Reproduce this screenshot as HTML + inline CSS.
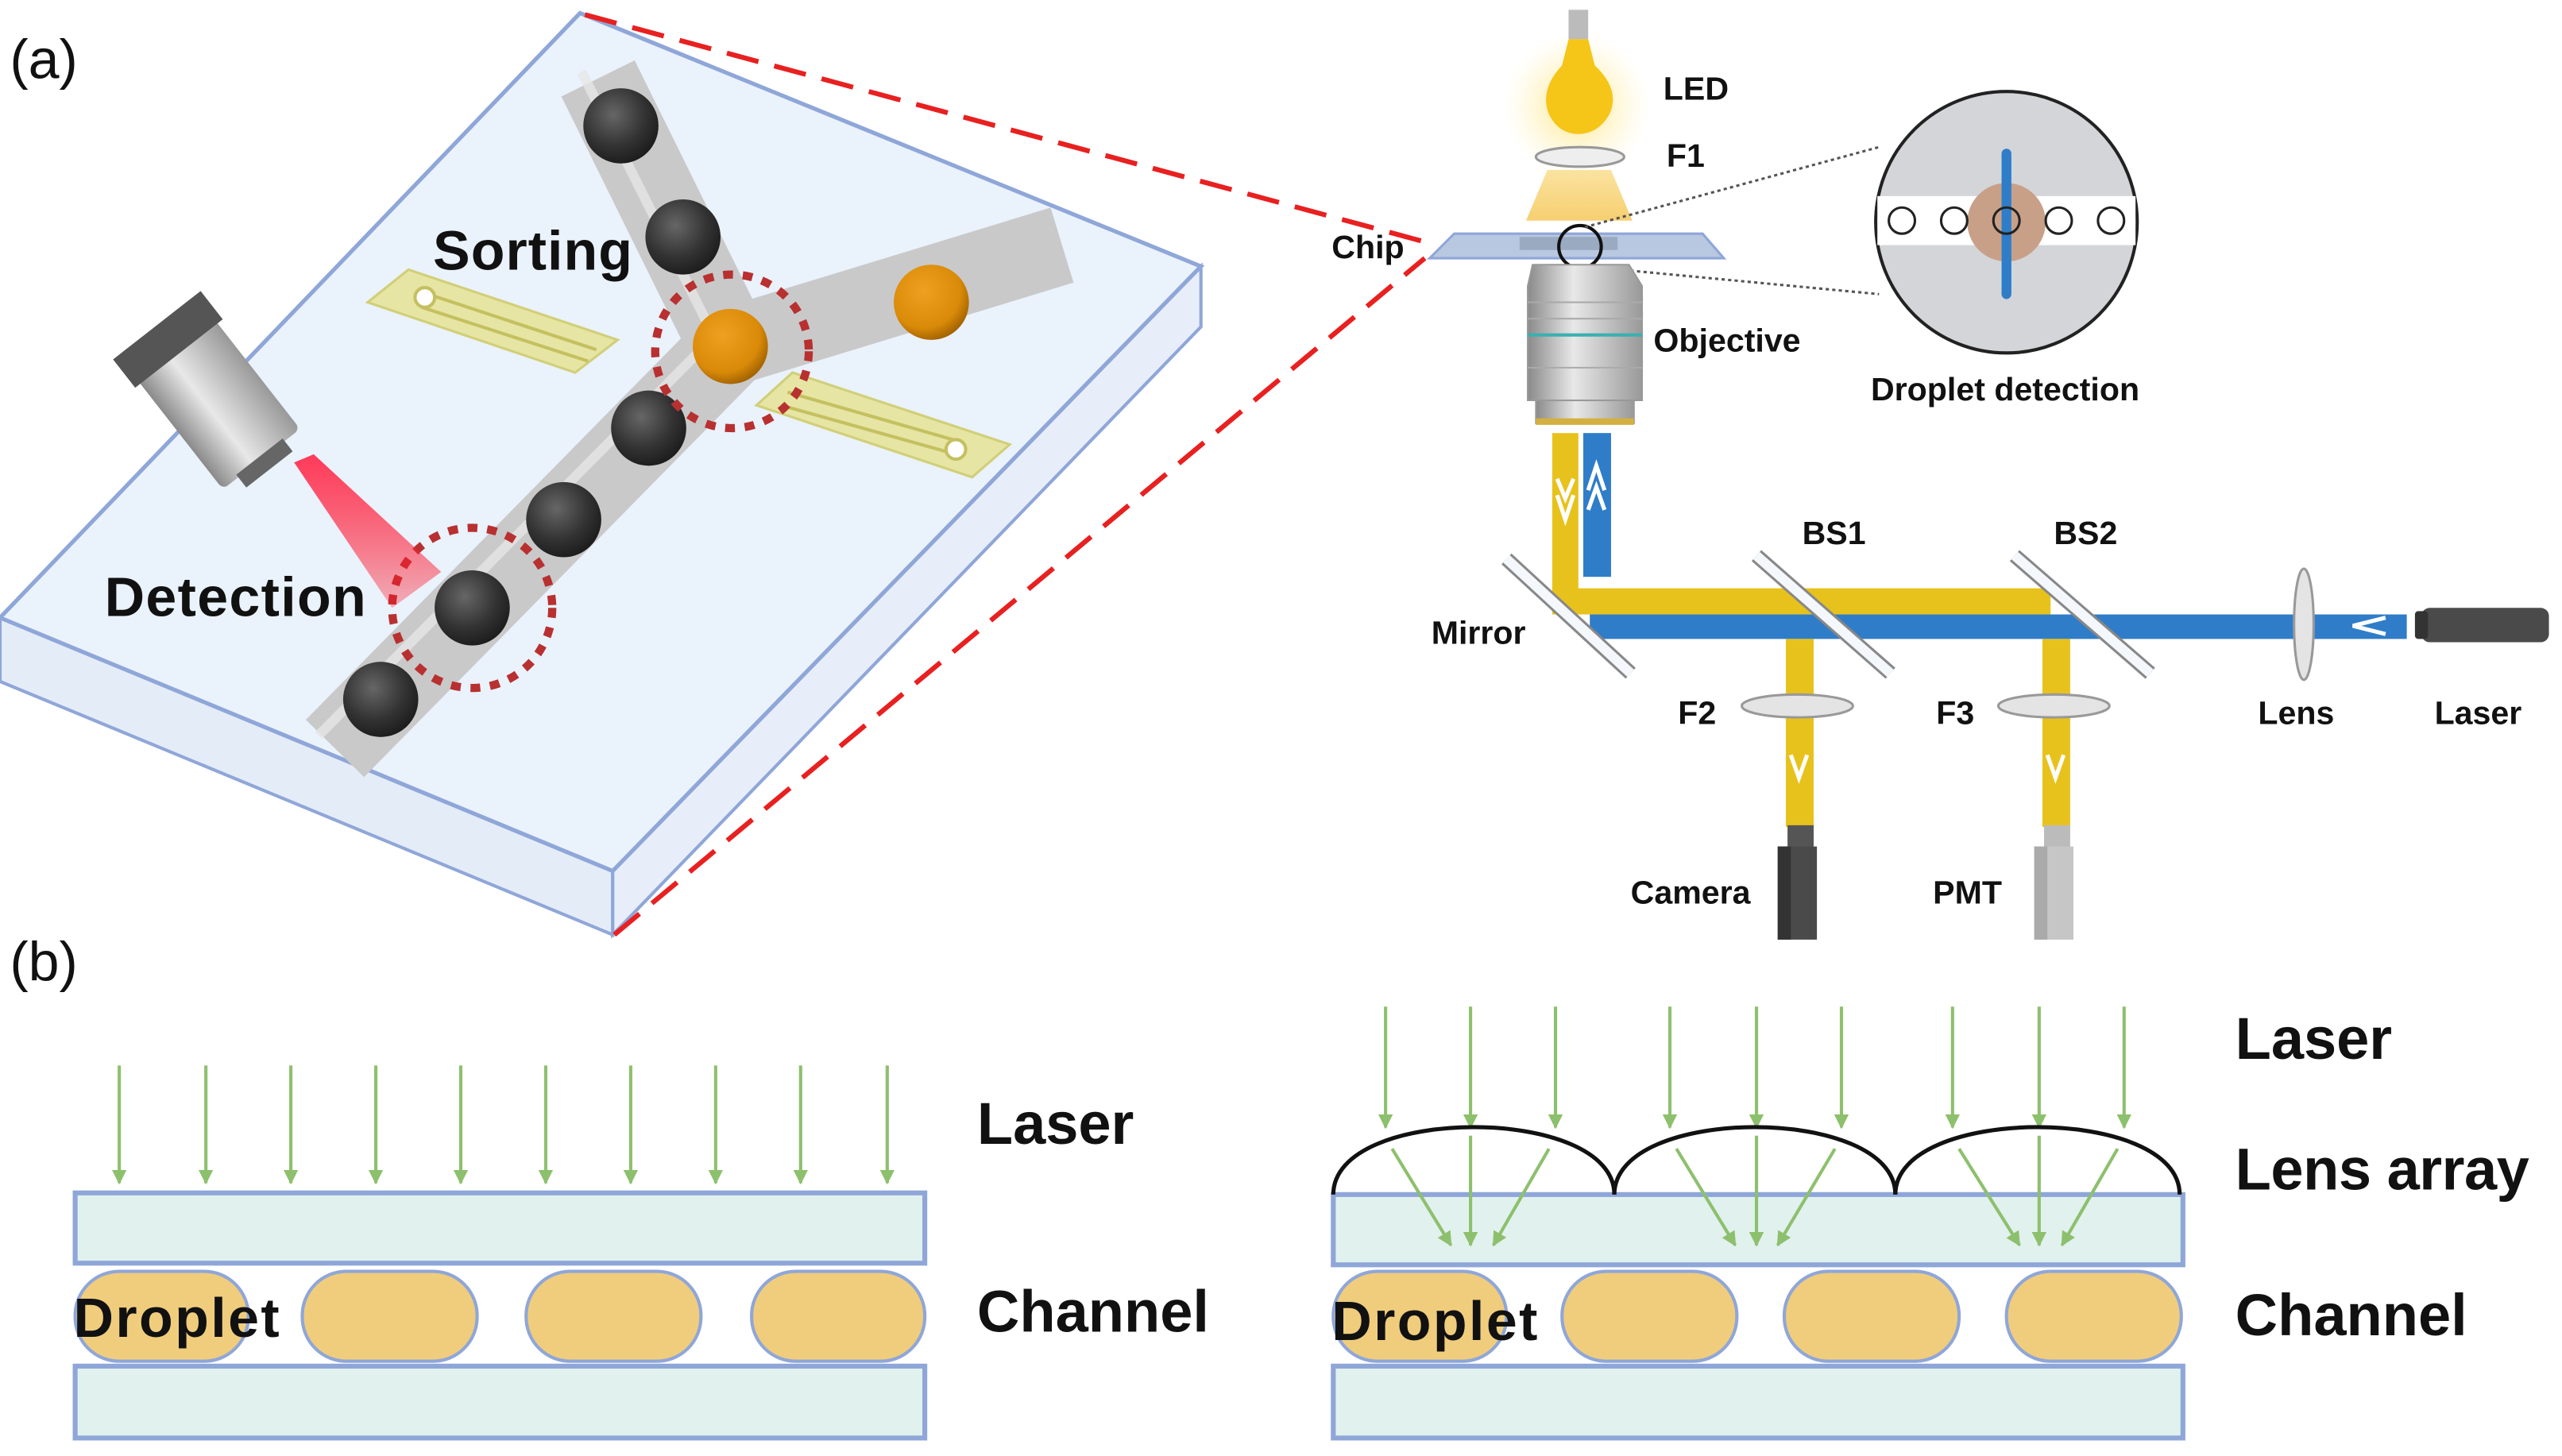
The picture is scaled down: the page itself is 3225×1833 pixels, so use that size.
<!DOCTYPE html>
<html><head><meta charset="utf-8"><style>
html,body{margin:0;padding:0;background:#fff;}
svg{display:block;}
text{font-family:"Liberation Sans",sans-serif;}
.b{font-weight:bold;fill:#111;}
</style></head><body>
<svg width="3225" height="1833" viewBox="0 0 1568 891" preserveAspectRatio="none" xmlns="http://www.w3.org/2000/svg">
<defs>
<radialGradient id="ball" cx="0.4" cy="0.35" r="0.7"><stop offset="0" stop-color="#666"/><stop offset="0.6" stop-color="#333"/><stop offset="1" stop-color="#1a1a1a"/></radialGradient>
<radialGradient id="orb" cx="0.4" cy="0.35" r="0.7"><stop offset="0" stop-color="#f0a020"/><stop offset="0.7" stop-color="#d98a08"/><stop offset="1" stop-color="#9a5c00"/></radialGradient>
<radialGradient id="glow" cx="0.5" cy="0.5" r="0.5"><stop offset="0" stop-color="#ffe070" stop-opacity="0.9"/><stop offset="1" stop-color="#fff4c0" stop-opacity="0"/></radialGradient>
<linearGradient id="cone" x1="0" y1="0" x2="0" y2="1"><stop offset="0" stop-color="#ff3a5a"/><stop offset="1" stop-color="#ff1020" stop-opacity="0.3"/></linearGradient>
<linearGradient id="obj" x1="0" y1="0" x2="1" y2="0"><stop offset="0" stop-color="#8a8a8a"/><stop offset="0.4" stop-color="#e8e8e8"/><stop offset="1" stop-color="#999"/></linearGradient>
<linearGradient id="ledcone" x1="0" y1="0" x2="0" y2="1"><stop offset="0" stop-color="#fbe3a0"/><stop offset="1" stop-color="#f6cf70"/></linearGradient>
<marker id="ar" viewBox="0 0 10 10" refX="9" refY="5" markerWidth="4" markerHeight="5" orient="auto" markerUnits="userSpaceOnUse"><path d="M0,0 L10,5 L0,10 z" fill="#8dc06d"/></marker>
<marker id="ag" viewBox="0 0 10 10" refX="9" refY="5" markerWidth="9" markerHeight="14" orient="auto" markerUnits="userSpaceOnUse"><path d="M0,0 L10,5 L0,10 z" fill="#8dc06d"/></marker>
</defs>

<!-- (a) labels -->
<text x="6" y="48" font-size="34" fill="#111">(a)</text>
<text x="6" y="600" font-size="34" fill="#111">(b)</text>

<!-- chip slab -->
<polygon points="0,378 375,533 375,572 0,417" fill="#e4ecf8" stroke="#8fa6d8" stroke-width="2"/>
<polygon points="375,533 735,163 735,200 375,572" fill="#e8eef9" stroke="#8fa6d8" stroke-width="2"/>
<polygon points="355,8 735,163 375,533 0,378" fill="#eaf2fc" stroke="#8fa6d8" stroke-width="2.5"/>

<!-- red dashed -->
<line x1="358" y1="9" x2="872" y2="148" stroke="#e82020" stroke-width="3" stroke-dasharray="20,10"/>
<line x1="376" y1="572" x2="872" y2="158" stroke="#e82020" stroke-width="3" stroke-dasharray="20,10"/>

<!-- channels -->
<g stroke-linecap="butt" fill="none">
<polyline points="205,458 447,212 366,48" stroke="#c9c9c9" stroke-width="50"/>
<polyline points="447,212 650,150" stroke="#c9c9c9" stroke-width="48"/>
<polyline points="195,450 437,206 356,44" stroke="#e6e6e6" stroke-width="6" opacity="0.8"/>
</g>

<!-- electrodes -->
<polygon points="225,185 250,165 378,208 352,228" fill="#e6e49a" stroke="#cfcc6a" stroke-width="1.5" opacity="0.9"/>
<g stroke="#c5c060" stroke-width="2"><line x1="262" y1="180" x2="365" y2="214"/><line x1="258" y1="188" x2="360" y2="221"/></g>
<circle cx="260" cy="182" r="6" fill="#fff" stroke="#c5c060" stroke-width="2"/>
<polygon points="463,248 485,228 618,272 595,292" fill="#e6e49a" stroke="#cfcc6a" stroke-width="1.5" opacity="0.9"/>
<g stroke="#c5c060" stroke-width="2"><line x1="478" y1="248" x2="585" y2="278"/><line x1="482" y1="240" x2="590" y2="271"/></g>
<circle cx="585" cy="275" r="6" fill="#fff" stroke="#c5c060" stroke-width="2"/>

<!-- droplets -->
<g>
<circle cx="380" cy="77" r="23" fill="url(#ball)"/>
<circle cx="418" cy="145" r="23" fill="url(#ball)"/>
<circle cx="397" cy="262" r="23" fill="url(#ball)"/>
<circle cx="345" cy="318" r="23" fill="url(#ball)"/>
<circle cx="289" cy="372" r="23" fill="url(#ball)"/>
<circle cx="233" cy="428" r="23" fill="url(#ball)"/>
<circle cx="447" cy="212" r="23" fill="url(#orb)"/>
<circle cx="570" cy="185" r="23" fill="url(#orb)"/>
</g>
<circle cx="448" cy="215" r="47" fill="none" stroke="#b83030" stroke-width="5" stroke-dasharray="6,6"/>
<circle cx="289" cy="372" r="49" fill="none" stroke="#b83030" stroke-width="5" stroke-dasharray="6,6"/>

<!-- objective on left -->
<g transform="translate(128,240) rotate(-38)">
<rect x="-30" y="-52" width="60" height="104" rx="4" fill="url(#obj)"/>
<rect x="-34" y="-52" width="68" height="22" fill="#555"/>
<rect x="-18" y="50" width="36" height="10" fill="#666"/>
</g>
<polygon points="180,283 192,278 270,350 240,372" fill="url(#cone)"/>

<text class="b" x="265" y="165" font-size="34" textLength="122">Sorting</text>
<text class="b" x="64" y="377" font-size="34" textLength="160">Detection</text>

<!-- LED -->
<circle cx="965" cy="65" r="45" fill="url(#glow)"/>
<rect x="960" y="6" width="12" height="18" fill="#bbb"/>
<path d="M960,24 L972,24 L976,40 Q992,55 985,70 Q978,82 966,82 Q954,82 948,70 Q942,55 956,40 z" fill="#f5c518"/>
<polygon points="947,104 986,104 999,135 934,135" fill="url(#ledcone)"/>
<ellipse cx="967" cy="96" rx="27" ry="6" fill="#eee" stroke="#999" stroke-width="1.5"/>
<text class="b" x="1018" y="61" font-size="20">LED</text>
<text class="b" x="1020" y="102" font-size="20">F1</text>
<text class="b" x="815" y="158" font-size="20">Chip</text>

<!-- chip plate -->
<polygon points="890,143 1042,143 1055,158 875,158" fill="#b8c8e0" stroke="#8fa6d8" stroke-width="1.5"/>
<rect x="930" y="145" width="60" height="8" fill="#9aaac0"/>
<ellipse cx="967" cy="151" rx="13" ry="13" fill="none" stroke="#111" stroke-width="2"/>
<line x1="970" y1="139" x2="1150" y2="90" stroke="#555" stroke-width="1.5" stroke-dasharray="2,2"/>
<line x1="970" y1="163" x2="1150" y2="180" stroke="#555" stroke-width="1.5" stroke-dasharray="2,2"/>

<!-- objective -->
<path d="M938,162 L997,162 L1005,175 L1005,245 L935,245 L935,175 z" fill="url(#obj)" stroke="#999"/>
<line x1="935" y1="205" x2="1005" y2="205" stroke="#3ab0b0" stroke-width="2"/>
<g stroke="#aaa" stroke-width="1"><line x1="935" y1="185" x2="1005" y2="185"/><line x1="935" y1="195" x2="1005" y2="195"/><line x1="935" y1="225" x2="1005" y2="225"/></g>
<rect x="940" y="245" width="60" height="14" fill="url(#obj)" stroke="#999"/>
<rect x="940" y="256" width="60" height="4" fill="#d4b040"/>
<text class="b" x="1012" y="215" font-size="20">Objective</text>

<!-- zoom circle -->
<circle cx="1228" cy="136" r="80" fill="#d3d5d8" stroke="#222" stroke-width="2"/>
<rect x="1149" y="120" width="158" height="30" fill="#fff"/>
<circle cx="1228" cy="136" r="24" fill="#c8a088"/>
<g fill="#fff" stroke="#222" stroke-width="1.5">
<circle cx="1164" cy="135" r="8"/><circle cx="1196" cy="135" r="8"/><circle cx="1260" cy="135" r="8"/><circle cx="1292" cy="135" r="8"/></g>
<line x1="1228" y1="94" x2="1228" y2="180" stroke="#2f7dc8" stroke-width="6" stroke-linecap="round"/>
<circle cx="1228" cy="135" r="8" fill="none" stroke="#222" stroke-width="1.5"/>
<text class="b" x="1145" y="245" font-size="20">Droplet detection</text>

<!-- beams -->
<rect x="950" y="265" width="16" height="110" fill="#e8c21c"/>
<rect x="950" y="360" width="305" height="16" fill="#e8c21c"/>
<rect x="969" y="265" width="17" height="88" fill="#2f7dc8"/>
<rect x="973" y="376" width="500" height="15" fill="#2f7dc8"/>
<rect x="1093" y="391" width="17" height="115" fill="#e8c21c"/>
<rect x="1250" y="391" width="17" height="115" fill="#e8c21c"/>
<g fill="none" stroke="#fff" stroke-width="2.5">
<polyline points="953,293 958,305 963,293"/><polyline points="953,303 958,318 963,303"/>
<polyline points="972,300 977,285 982,300"/><polyline points="972,312 977,298 982,312"/>
<polyline points="1460,378 1440,383 1460,388"/>
<polyline points="1096,462 1101,476 1106,462"/><polyline points="1253,462 1258,476 1263,462"/>
</g>
<!-- mirrors -->
<g stroke="#888" stroke-width="9" stroke-linecap="butt"><line x1="922" y1="342" x2="998" y2="412"/><line x1="1075" y1="340" x2="1157" y2="412"/><line x1="1233" y1="340" x2="1316" y2="412"/></g>
<g stroke="#f4f8fc" stroke-width="6"><line x1="922" y1="342" x2="998" y2="412"/><line x1="1075" y1="340" x2="1157" y2="412"/><line x1="1233" y1="340" x2="1316" y2="412"/></g>
<ellipse cx="1100" cy="432" rx="34" ry="7" fill="#e4e4e4" stroke="#999" stroke-width="1.5"/>
<ellipse cx="1257" cy="432" rx="34" ry="7" fill="#e4e4e4" stroke="#999" stroke-width="1.5"/>
<ellipse cx="1410" cy="382" rx="6" ry="34" fill="#e4e4e4" stroke="#999" stroke-width="1.5"/>
<rect x="1482" y="372" width="78" height="21" rx="5" fill="#4a4a4a"/>
<rect x="1478" y="374" width="8" height="17" rx="2" fill="#333"/>
<!-- camera / PMT -->
<rect x="1094" y="505" width="16" height="14" fill="#555"/>
<rect x="1088" y="518" width="24" height="57" fill="#4a4a4a"/>
<rect x="1088" y="518" width="8" height="57" fill="#333"/>
<rect x="1251" y="505" width="16" height="14" fill="#bbb"/>
<rect x="1245" y="518" width="24" height="57" fill="#c6c6c6"/>
<rect x="1245" y="518" width="8" height="57" fill="#aaa"/>

<g class="b" font-size="20">
<text class="b" x="1103" y="333" font-size="20">BS1</text>
<text class="b" x="1257" y="333" font-size="20">BS2</text>
<text class="b" x="876" y="394" font-size="20">Mirror</text>
<text class="b" x="1027" y="443" font-size="20">F2</text>
<text class="b" x="1185" y="443" font-size="20">F3</text>
<text class="b" x="1382" y="443" font-size="20">Lens</text>
<text class="b" x="1490" y="443" font-size="20">Laser</text>
<text class="b" x="998" y="553" font-size="20">Camera</text>
<text class="b" x="1183" y="553" font-size="20">PMT</text>
</g>

<!-- (b) left -->
<g stroke="#8dc06d" stroke-width="2" marker-end="url(#ag)">
<line x1="73" y1="652" x2="73" y2="724"/><line x1="126" y1="652" x2="126" y2="724"/><line x1="178" y1="652" x2="178" y2="724"/><line x1="230" y1="652" x2="230" y2="724"/><line x1="282" y1="652" x2="282" y2="724"/><line x1="334" y1="652" x2="334" y2="724"/><line x1="386" y1="652" x2="386" y2="724"/><line x1="438" y1="652" x2="438" y2="724"/><line x1="490" y1="652" x2="490" y2="724"/><line x1="543" y1="652" x2="543" y2="724"/>
</g>
<g fill="#e1f1ee" stroke="#8fa6d8" stroke-width="3">
<rect x="46" y="730" width="520" height="43"/><rect x="46" y="836" width="520" height="44"/>
<rect x="816" y="731" width="520" height="43"/><rect x="816" y="836" width="520" height="44"/>
</g>
<g fill="#f0cd7c" stroke="#8fa6d8" stroke-width="2">
<rect x="46" y="778" width="106" height="55" rx="27"/><rect x="185" y="778" width="107" height="55" rx="27"/><rect x="322" y="778" width="107" height="55" rx="27"/><rect x="460" y="778" width="106" height="55" rx="27"/>
<rect x="816" y="778" width="106" height="55" rx="27"/><rect x="956" y="778" width="107" height="55" rx="27"/><rect x="1092" y="778" width="107" height="55" rx="27"/><rect x="1228" y="778" width="107" height="55" rx="27"/>
</g>
<text class="b" x="45" y="818" font-size="34" textLength="126">Droplet</text>
<text class="b" x="815" y="820" font-size="34" textLength="126">Droplet</text>
<text class="b" x="598" y="700" font-size="36" textLength="96">Laser</text>
<text class="b" x="598" y="815" font-size="36" textLength="142">Channel</text>

<!-- (b) right -->
<g stroke="#8dc06d" stroke-width="2" marker-end="url(#ag)">
<line x1="848" y1="616" x2="848" y2="690"/><line x1="900" y1="616" x2="900" y2="690"/><line x1="952" y1="616" x2="952" y2="690"/>
<line x1="1022" y1="616" x2="1022" y2="690"/><line x1="1075" y1="616" x2="1075" y2="690"/><line x1="1127" y1="616" x2="1127" y2="690"/>
<line x1="1195" y1="616" x2="1195" y2="690"/><line x1="1248" y1="616" x2="1248" y2="690"/><line x1="1300" y1="616" x2="1300" y2="690"/>
</g>
<g fill="none" stroke="#111" stroke-width="2.5">
<path d="M816,731 C816,676 988,676 988,731"/>
<path d="M988,731 C988,676 1160,676 1160,731"/>
<path d="M1160,731 C1160,676 1334,676 1334,731"/>
</g>
<g stroke="#8dc06d" stroke-width="2" marker-end="url(#ag)">
<line x1="852" y1="703" x2="888" y2="762"/><line x1="900" y1="695" x2="900" y2="762"/><line x1="948" y1="703" x2="914" y2="762"/>
<line x1="1026" y1="703" x2="1062" y2="762"/><line x1="1075" y1="695" x2="1075" y2="762"/><line x1="1123" y1="703" x2="1088" y2="762"/>
<line x1="1199" y1="703" x2="1236" y2="762"/><line x1="1248" y1="695" x2="1248" y2="762"/><line x1="1296" y1="703" x2="1262" y2="762"/>
</g>
<text class="b" x="1368" y="648" font-size="36" textLength="96">Laser</text>
<text class="b" x="1368" y="728" font-size="36" textLength="180">Lens array</text>
<text class="b" x="1368" y="817" font-size="36" textLength="142">Channel</text>
</svg>
</body></html>
